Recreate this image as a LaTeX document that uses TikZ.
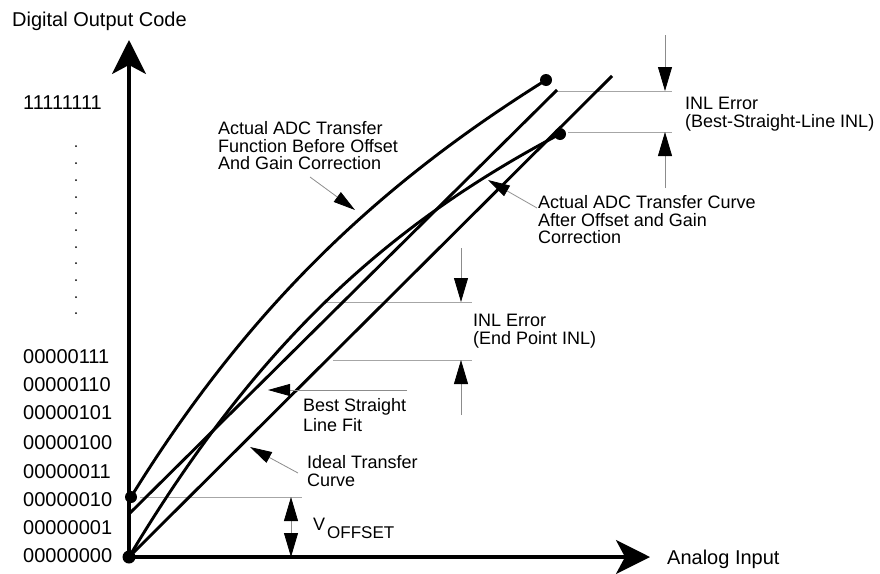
\documentclass[tikz,border=0pt]{standalone}
\usepackage{fontspec}
\setmainfont{Liberation Sans}
\usetikzlibrary{arrows.meta}
\begin{document}
\begin{tikzpicture}[x=1pt,y=-1pt,
  axisline/.style={line width=3.2pt,-{Stealth[length=34pt,width=34pt,inset=9pt]}},
  curveline/.style={line width=2.9pt},
  guide/.style={line width=0.8pt,draw=black!35},
  leader/.style={line width=0.8pt,draw=black!45,-{Triangle[length=22pt,width=12pt,color=black]}},
  dimarrow/.style={line width=0.8pt,draw=black!45,-{Triangle[length=24pt,width=14pt,color=black]}},
  dotmark/.style={fill=black},
  code/.style={font=\fontsize{20}{20}\selectfont,inner sep=0pt,anchor=west},
  axislabel/.style={font=\fontsize{20}{20}\selectfont,inner sep=0pt,anchor=base west},
  lbl/.style={font=\fontsize{18}{17.5}\selectfont,inner sep=0pt,align=left,anchor=north west}
]
\useasboundingbox (0,0) rectangle (880,573);

% key points
\coordinate (O) at (129,557);
\coordinate (ytip) at (129,40);
\coordinate (xtip) at (650,557);
\coordinate (Astart) at (131,497);
\coordinate (Aend) at (546,80);
\coordinate (Bend) at (560,134);
\coordinate (Fstart) at (130,513);
\coordinate (Fend) at (557,90);
\coordinate (Iend) at (612,76);

% guide lines
\coordinate (g1a) at (557,91);  \coordinate (g1b) at (672,91);
\coordinate (g2a) at (568,132); \coordinate (g2b) at (672,132);
\coordinate (g3a) at (327,302); \coordinate (g3b) at (472,302);
\coordinate (g4a) at (333,360); \coordinate (g4b) at (472,360);
\coordinate (g5a) at (140,497); \coordinate (g5b) at (302,497);
\draw[guide] (g1a) -- (g1b);
\draw[guide] (g2a) -- (g2b);
\draw[guide] (g3a) -- (g3b);
\draw[guide] (g4a) -- (g4b);
\draw[guide] (g5a) -- (g5b);

% dimension arrows
\coordinate (d1top) at (665,35);  \coordinate (d1bot) at (665,188);
\coordinate (d2top) at (461,248); \coordinate (d2bot) at (461,415);
\coordinate (d3mid) at (291,527);
\draw[dimarrow] (d1top) -- (665,91);
\draw[dimarrow] (d1bot) -- (665,132);
\draw[dimarrow] (d2top) -- (461,302);
\draw[dimarrow] (d2bot) -- (461,360);
\draw[dimarrow] (d3mid) -- (291,497);
\draw[dimarrow] (d3mid) -- (291,557);

% curves and lines
\draw[curveline] (O) -- (Iend);
\draw[curveline] (Fstart) -- (Fend);
\draw[curveline] (Astart) .. controls (252,301) and (386,180) .. (Aend);
\draw[curveline] (O) .. controls (259,340) and (390,224) .. (Bend);

% axes
\draw[axisline] (O) -- (ytip);
\draw[axisline] (O) -- (xtip);

% dots
\fill[dotmark] (O) circle (6.5pt);
\fill[dotmark] (Astart) circle (6pt);
\fill[dotmark] (Aend) circle (6pt);
\fill[dotmark] (Bend) circle (6pt);

% leaders
\coordinate (l1s) at (310,177); \coordinate (l1t) at (355,210);
\coordinate (l2s) at (537,208); \coordinate (l2t) at (488,180);
\coordinate (l3s) at (407,390); \coordinate (l3t) at (268,390);
\coordinate (l4s) at (298,473); \coordinate (l4t) at (250,447);
\draw[leader] (l1s) -- (l1t);
\draw[leader] (l2s) -- (l2t);
\draw[leader] (l3s) -- (l3t);
\draw[leader] (l4s) -- (l4t);

% axis labels
\node[axislabel] (ylab) at (12,26) {Digital Output Code};
\node[axislabel] (xlab) at (667,564) {Analog Input};

% codes
\node[code] (c255) at (23,102.5) {11111111};
\node[code] (c7) at (23,356.7) {00000111};
\node[code] (c6) at (23,384.5) {00000110};
\node[code] (c5) at (23,412.7) {00000101};
\node[code] (c4) at (23,442.7) {00000100};
\node[code] (c3) at (23,471.7) {00000011};
\node[code] (c2) at (23,499.7) {00000010};
\node[code] (c1) at (23,527.3) {00000001};
\node[code] (c0) at (23,556) {00000000};
\foreach \yy in {146,163,180,197,213,230,247,263,280,297,313}
  \fill (76,\yy) circle (1pt);

% labels
\node[lbl] (labA) at (218,121.5) {Actual ADC Transfer\\Function Before Offset\\And Gain Correction};
\node[lbl,font=\fontsize{18}{18}\selectfont] (labINL1) at (685,96.5) {INL Error\\(Best-Straight-Line INL)};
\node[lbl] (labB) at (538,195.5) {Actual ADC Transfer Curve\\After Offset and Gain\\Correction};
\node[lbl,font=\fontsize{18}{18}\selectfont] (labINL2) at (473,313.5) {INL Error\\(End Point INL)};
\node[lbl,font=\fontsize{18}{20.5}\selectfont] (labF) at (303,398) {Best Straight\\Line Fit};
\node[lbl] (labI) at (307,455.5) {Ideal Transfer\\Curve};
\node[inner sep=0pt,anchor=base west,font=\fontsize{18}{18}\selectfont] (labV) at (313,530)
  {V\kern2pt\raisebox{-8pt}{\fontsize{17}{17}\selectfont OFFSET}};
\end{tikzpicture}
\end{document}
